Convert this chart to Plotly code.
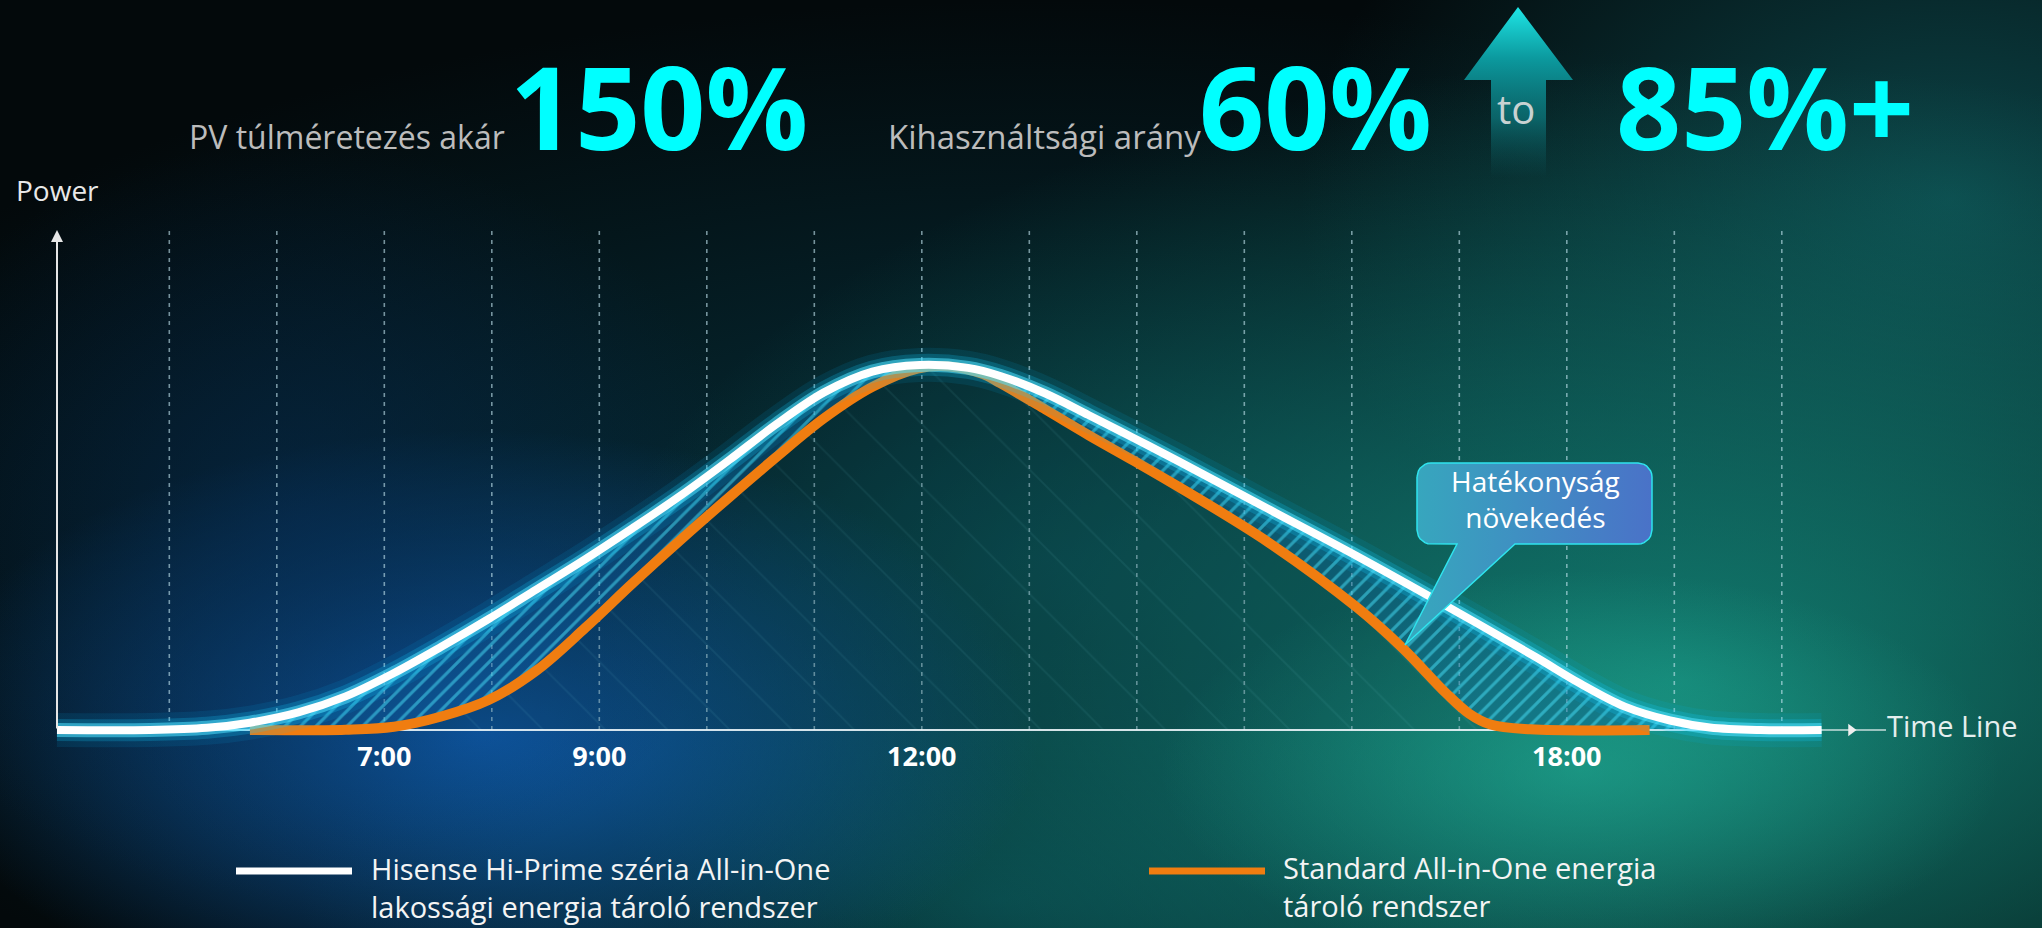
import numpy as np
import plotly.graph_objects as go

# ---------------- data ----------------
white_hours = [3.955, 4.82, 5.35, 5.75, 6.20, 6.64, 7.09, 7.53, 7.97, 8.42,
               8.87, 9.31, 9.76, 10.21, 10.64, 11.09, 11.54, 11.98, 12.43, 12.73,
               13.15, 13.55, 13.97, 14.39, 15.22, 16.05, 16.88, 17.71, 18.12, 18.54,
               18.96, 19.33, 19.80, 20.37]
white_power = [0, 0, 0.6, 2.0, 4.8, 9.2, 15.6, 22.8, 30.4, 38.6,
               46.8, 55.3, 64.3, 74.0, 83.6, 92.5, 98.2, 100, 99.2, 97.0,
               92.2, 86.3, 80.0, 73.6, 60.6, 47.6, 34.0, 20.0, 12.8, 6.4,
               2.6, 0.7, 0, 0]

orange_hours = [5.75, 6.64, 7.09, 7.53, 7.97, 8.42, 8.87, 9.31, 9.76, 10.21,
                10.64, 11.09, 11.54, 11.96, 12.26, 12.57, 12.73, 13.15, 13.55, 13.97,
                14.39, 15.22, 16.05, 16.47, 16.88, 17.09, 17.29, 17.66, 18.77]
orange_power = [0, 0.1, 0.9, 3.7, 8.2, 16.4, 28.0, 40.2, 52.2, 63.8,
                74.6, 85.4, 94.0, 99.0, 99.6, 97.5, 95.0, 87.8, 80.8, 73.8,
                66.6, 51.5, 33.5, 22.5, 10.0, 4.5, 1.5, 0.2, 0]

tick_hours = [7, 9, 12, 18]
tick_labels = ["7:00", "9:00", "12:00", "18:00"]
grid_hours = list(range(5, 21))

series_names = ["Hisense Hi-Prime széria All-in-One<br>lakossági energia tároló rendszer",
                "Standard All-in-One energia<br>tároló rendszer"]

# ---------------- geometry helpers (pixel -> axis) ----------------
W, H = 2042, 928
X0, PXH = 3.425, 107.5
BASE_PY, PPV = 730.0, 3.65


def hx(px):
    return X0 + px / PXH


def vy(py):
    return (BASE_PY - py) / PPV


def rect(cx, cy, rx, ry):
    xs = [cx - rx, cx + rx, cx + rx, cx - rx, cx - rx]
    ys = [cy - ry, cy - ry, cy + ry, cy + ry, cy - ry]
    return [hx(x) for x in xs], [vy(y) for y in ys]


fig = go.Figure()

# ---------------- background glows ----------------
blobs = [
    # cx, cy, rx, ry, rgb, alpha
    (1050, 560, 1350, 560, (6, 52, 64), 0.9),
    (1950, 200, 650, 460, (14, 84, 88), 0.8),
    (1000, 900, 700, 260, (8, 70, 78), 0.7),
    (1680, 680, 1100, 620, (20, 140, 124), 0.85),
    (1580, 770, 420, 200, (40, 200, 170), 0.45),
    (480, 730, 560, 300, (16, 100, 190), 0.85),
    (300, 520, 450, 380, (6, 44, 86), 0.55),
]
for cx, cy, rx, ry, rgb, a in blobs:
    xs, ys = rect(cx, cy, rx, ry)
    r, g, b = rgb
    fig.add_trace(go.Scatter(
        x=xs, y=ys, mode="none", fill="toself", hoverinfo="skip", showlegend=False,
        fillgradient=dict(type="radial", colorscale=[[0, f"rgba({r},{g},{b},{a})"],
                                                     [0.55, f"rgba({r},{g},{b},{a*0.45})"],
                                                     [1, f"rgba({r},{g},{b},0)"]])))

# ---------------- dashed vertical guides ----------------
gx, gy = [], []
for h in grid_hours:
    gx += [h, h, None]
    gy += [0, vy(228), None]
fig.add_trace(go.Scatter(x=gx, y=gy, mode="lines", hoverinfo="skip", showlegend=False,
                         line=dict(color="rgba(195,230,240,0.6)", width=1.6, dash="4px,5px")))

# ---------------- fills ----------------
SPL = dict(shape="spline", smoothing=1.0)
fig.add_trace(go.Scatter(
    x=orange_hours, y=orange_power, mode="lines", line=dict(width=0, **SPL),
    fill="tozeroy", fillcolor="rgba(0,0,0,0)", hoverinfo="skip", showlegend=False,
    fillpattern=dict(shape="\\", fgcolor="rgba(120,210,225,0.16)", bgcolor="rgba(5,40,50,0.2)",
                     size=44, solidity=0.04)))
fig.add_trace(go.Scatter(
    x=orange_hours, y=orange_power, mode="lines", line=dict(width=0, **SPL),
    hoverinfo="skip", showlegend=False))
fig.add_trace(go.Scatter(
    x=white_hours, y=white_power, mode="lines", line=dict(width=0, **SPL),
    fill="tonexty", fillcolor="rgba(12,90,150,0.4)", hoverinfo="skip", showlegend=False,
    fillpattern=dict(shape="/", fgcolor="#4ae2fa", bgcolor="rgba(12,90,150,0.4)",
                     size=11, solidity=0.28)))

# ---------------- baseline ----------------
fig.add_trace(go.Scatter(x=[hx(57), hx(1822)], y=[0, 0], mode="lines", hoverinfo="skip",
                         showlegend=False, line=dict(color="rgba(235,245,250,0.9)", width=2)))

# ---------------- curves ----------------
fig.add_trace(go.Scatter(x=orange_hours, y=orange_power, mode="lines", hoverinfo="skip",
                         name="Standard All-in-One energia tároló rendszer", showlegend=False,
                         line=dict(color="#f07d10", width=10, **SPL)))
for wdt, col in [(34, "rgba(0,190,255,0.10)"), (22, "rgba(20,205,255,0.22)"),
                 (14, "rgba(80,225,255,0.55)")]:
    fig.add_trace(go.Scatter(x=white_hours, y=white_power, mode="lines", hoverinfo="skip",
                             showlegend=False, line=dict(color=col, width=wdt, **SPL)))
fig.add_trace(go.Scatter(x=white_hours, y=white_power, mode="lines", hoverinfo="skip",
                         name="Hisense Hi-Prime széria All-in-One lakossági energia tároló rendszer",
                         showlegend=False, line=dict(color="#ffffff", width=8, **SPL)))

# ---------------- time line arrow ----------------
fig.add_trace(go.Scatter(x=[hx(1822), hx(1886)], y=[0, 0], mode="lines", hoverinfo="skip",
                         showlegend=False, line=dict(color="rgba(230,240,240,0.85)", width=1.5)))
fig.add_trace(go.Scatter(x=[hx(1851)], y=[0], mode="markers", hoverinfo="skip", showlegend=False,
                         marker=dict(symbol="triangle-right", size=11, color="#f0f0f0")))

# ---------------- big up arrow ----------------
arrow_px = [(1518, 7), (1573, 80), (1546, 80), (1546, 178), (1491, 178), (1491, 80), (1464, 80), (1518, 7)]
fig.add_trace(go.Scatter(
    x=[hx(p[0]) for p in arrow_px], y=[vy(p[1]) for p in arrow_px], mode="none", fill="toself",
    hoverinfo="skip", showlegend=False,
    fillgradient=dict(type="vertical", colorscale=[[0, "rgba(10,90,95,0)"], [0.35, "rgba(12,120,125,0.75)"],
                                                   [0.7, "rgba(12,160,165,0.95)"], [1, "rgba(30,230,230,1)"]])))

# ---------------- callout ----------------
bx0, by0, bx1, by1, rr = 1417, 463, 1652, 544, 14
pts = []


def arc(cx, cy, a0, a1):
    for t in np.linspace(a0, a1, 8):
        pts.append((cx + rr * np.cos(t), cy + rr * np.sin(t)))


arc(bx0 + rr, by0 + rr, np.pi, 1.5 * np.pi)
arc(bx1 - rr, by0 + rr, 1.5 * np.pi, 2 * np.pi)
arc(bx1 - rr, by1 - rr, 0, 0.5 * np.pi)
pts += [(1515, by1), (1405, 645), (1457, by1)]
arc(bx0 + rr, by1 - rr, 0.5 * np.pi, np.pi)
pts.append(pts[0])
fig.add_trace(go.Scatter(
    x=[hx(p[0]) for p in pts], y=[vy(p[1]) for p in pts], mode="lines", fill="toself",
    line=dict(color="#2fe4ee", width=1.5), hoverinfo="skip", showlegend=False,
    fillgradient=dict(type="horizontal", colorscale=[[0, "#36a9bd"], [1, "#4a72c8"]])))

# ---------------- annotations ----------------
ann = []


def txt(text, px, py_base, size, color, bold=False, xanchor="left", nlines=1, align="left"):
    ann.append(dict(
        text=f"<b>{text}</b>" if bold else text, xref="paper", yref="paper",
        x=px / W, y=1 - (py_base + 1.3 * size * (nlines - 1) + 0.293 * size + 1) / H,
        xanchor=xanchor, yanchor="bottom", align=align,
        showarrow=False, font=dict(family="Open Sans", size=size, color=color)))


GRAY = "#bcbcbc"
CYAN = "#00ffff"
txt("PV túlméretezés akár", 187, 150, 32, GRAY)
txt("150%", 508, 151, 114, CYAN, bold=True)
txt("Kihasználtsági arány", 886, 150, 33, GRAY)
txt("60%", 1197, 151, 114, CYAN, bold=True)
txt("to", 1516, 125, 40, "#c8d2d2", xanchor="center")
txt("85%+", 1614, 151, 114, CYAN, bold=True)
txt("Power", 14, 202, 28, "#e8e8e8")
txt("Time Line", 1885, 738, 29, "#e4eeee")
txt("Hatékonyság<br>növekedés", 1535, 492, 28, "#ffffff", xanchor="center", nlines=2, align="center")
txt(series_names[0], 369, 881, 29, "#f4f4f4", nlines=2)
txt(series_names[1], 1281, 880, 29, "#f4f4f4", nlines=2)

# y axis arrow
ann.append(dict(x=hx(57), y=vy(230), ax=hx(57), ay=0, xref="x", yref="y", axref="x", ayref="y",
                showarrow=True, arrowhead=2, arrowsize=1.2, arrowwidth=2, arrowcolor="#e6e6e6", text=""))

# legend line samples
shapes = [
    dict(type="line", xref="paper", yref="paper", x0=236 / W, x1=352 / W, y0=1 - 871 / H, y1=1 - 871 / H,
         line=dict(color="#ffffff", width=7)),
    dict(type="line", xref="paper", yref="paper", x0=1149 / W, x1=1265 / W, y0=1 - 871 / H, y1=1 - 871 / H,
         line=dict(color="#f07d10", width=7)),
]

fig.update_layout(
    width=W, height=H, margin=dict(l=0, r=0, t=0, b=0),
    paper_bgcolor="#03090b", plot_bgcolor="rgba(0,0,0,0)",
    showlegend=False, annotations=ann, shapes=shapes,
    xaxis=dict(range=[hx(0), hx(W)], showgrid=False, zeroline=False, showline=False,
               anchor="free", position=1 - BASE_PY / H, tickmode="array",
               tickvals=tick_hours, ticktext=[f"<b>{t}</b>" for t in tick_labels],
               ticks="", ticklabelstandoff=8,
               tickfont=dict(family="Open Sans", size=27, color="#ffffff"), fixedrange=True),
    yaxis=dict(range=[vy(H), vy(0)], showgrid=False, zeroline=False, showline=False,
               showticklabels=False, fixedrange=True),
)

fig.write_html("out.html", config={"displayModeBar": False},
               post_script="document.body.style.margin='0';document.body.style.background='#03090b';")
